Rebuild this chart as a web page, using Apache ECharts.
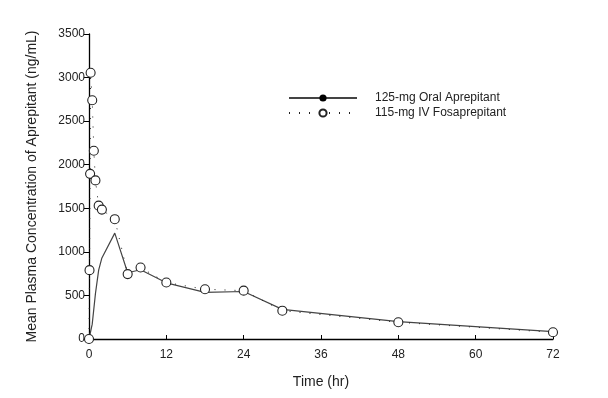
<!DOCTYPE html>
<html>
<head>
<meta charset="utf-8">
<script src="https://cdn.jsdelivr.net/npm/echarts@6/dist/echarts.min.js"></script>
<style>
  html, body { margin: 0; padding: 0; background: #fff; }
  #chart { width: 608px; height: 398px; }
</style>
</head>
<body>
<div id="chart"></div>
<script>
const oralTime = [0, 0.5, 1, 1.5, 2, 4, 6, 8, 12, 18, 24, 30, 48, 72];
const oralConc = [0, 170, 520, 790, 930, 1215, 760, 795, 645, 535, 545, 340, 200, 85];

const ivTime = [0, 0.08, 0.17, 0.25, 0.5, 0.75, 1, 1.5, 2, 4, 6, 8, 12, 18, 24, 30, 48, 72];
const ivConc = [0, 790, 1895, 3055, 2740, 2160, 1820, 1530, 1485, 1375, 745, 820, 648, 571, 555, 325, 192, 77];

const xTicks = [0, 12, 24, 36, 48, 60, 72];
const yTicks = [0, 500, 1000, 1500, 2000, 2500, 3000, 3500];

const seriesNames = ["125-mg Oral Aprepitant", "115-mg IV Fosaprepitant"];

function pairs(xs, ys) {
  return xs.map((x, i) => [x, ys[i]]);
}

const font = "Liberation Sans, Arial, sans-serif";
const chart = echarts.init(document.getElementById("chart"));

chart.setOption({
  animation: false,
  textStyle: { fontFamily: font },
  grid: { left: 89, right: 55, top: 34, bottom: 59 },
  legend: {
    orient: "vertical",
    left: 283,
    top: 87,
    itemWidth: 68,
    itemHeight: 9,
    itemGap: 3,
    textStyle: { fontSize: 12, color: "#222", fontFamily: font, padding: [0, 0, 0, 13] },
    data: seriesNames,
  },
  xAxis: {
    type: "value",
    min: xTicks[0],
    max: xTicks[xTicks.length - 1],
    interval: 12,
    name: "Time (hr)",
    nameLocation: "middle",
    nameGap: 36,
    nameTextStyle: { fontSize: 14, color: "#222", fontFamily: font },
    axisLine: { lineStyle: { color: "#000", width: 1.3 } },
    axisTick: { inside: true, length: 4, lineStyle: { color: "#000" } },
    axisLabel: { fontSize: 12, color: "#222", margin: 10 },
    splitLine: { show: false },
  },
  yAxis: {
    type: "value",
    min: yTicks[0],
    max: yTicks[yTicks.length - 1],
    interval: 500,
    name: "Mean Plasma Concentration of Aprepitant (ng/mL)",
    nameLocation: "middle",
    nameGap: 50,
    nameTextStyle: { fontSize: 14, color: "#222", fontFamily: font },
    axisLine: { show: true, lineStyle: { color: "#000", width: 1.3 } },
    axisTick: { show: true, length: 5, lineStyle: { color: "#000" } },
    axisLabel: { fontSize: 12, color: "#222", margin: 4, formatter: (v) => String(v) },
    splitLine: { show: false },
  },
  series: [
    {
      name: seriesNames[0],
      type: "line",
      data: pairs(oralTime, oralConc),
      showSymbol: false,
      symbol: "circle",
      symbolSize: 8,
      itemStyle: { color: "#000" },
      lineStyle: { color: "#444", width: 1.2 },
      z: 2,
    },
    {
      name: seriesNames[1],
      type: "line",
      data: pairs(ivTime, ivConc),
      symbol: "circle",
      symbolSize: 9,
      itemStyle: { color: "#fff", borderColor: "#222", borderWidth: 1.1 },
      lineStyle: { color: "#222", width: 1, type: [1, 9] },
      z: 3,
    },
  ],
});
</script>
</body>
</html>
